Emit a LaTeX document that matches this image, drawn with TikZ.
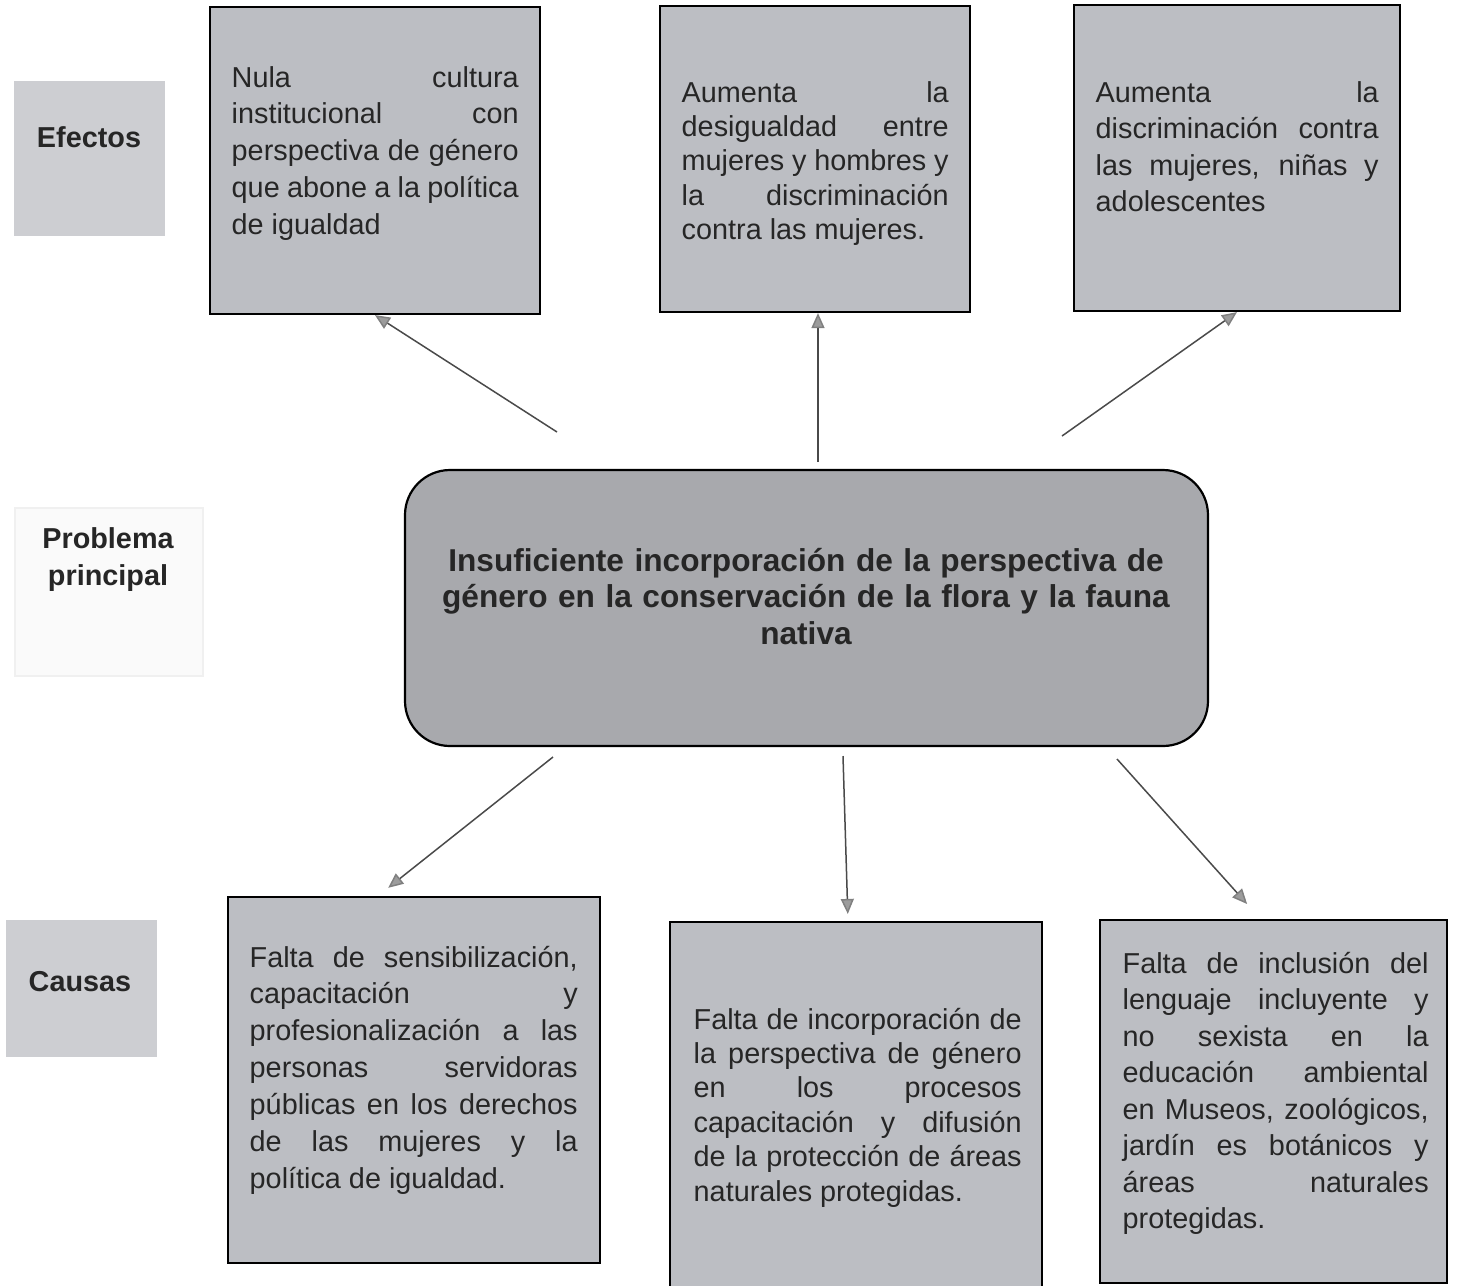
\documentclass[tikz,border=0pt]{standalone}
\usepackage{fontspec}
\setmainfont{Liberation Sans}
\usetikzlibrary{arrows.meta}
\tolerance=10000
\hbadness=10000
\hyphenpenalty=10000

\definecolor{boxgray}{HTML}{BCBEC3}
\definecolor{maingray}{HTML}{A8A9AD}
\definecolor{labgray}{HTML}{CDCED2}
\definecolor{txtgray}{HTML}{262626}
\definecolor{lingray}{HTML}{4A4A4A}
\definecolor{headgray}{HTML}{9C9C9C}

\tikzset{
  cbox/.style={rectangle,draw=black,fill=boxgray,line width=0.22mm,inner sep=0},
  labbox/.style={rectangle,draw=none,fill=labgray,inner sep=0},
  btxt/.style={anchor=base west,inner sep=0,align=justify,text=txtgray,font=\fontsize{8.2}{10.5}\selectfont},
  labtxt/.style={anchor=base,inner sep=0,align=center,text=txtgray,font=\fontsize{8.2}{10.6}\selectfont\bfseries},
  arr/.style={-{Triangle[length=1.5mm,width=1.3mm,fill=headgray,color=gray]},draw=lingray,line width=0.15mm}
}

\begin{document}
\begin{tikzpicture}[x=0.1mm,y=-0.1mm]
\useasboundingbox (0,0) rectangle (1458,1285);
% Row labels
\node[labbox,minimum width=15.1mm,minimum height=15.5mm] (Lefe) at (89.5,158.5) {};
\node[labtxt,text width=15mm] (Tefe) at (89,147) {Efectos};
\node[rectangle,draw=black!6,fill=black!2,minimum width=18.8mm,minimum height=16.8mm,inner sep=0] (Lprob) at (109,592) {};
\node[labtxt,text width=18mm] (Tprob) at (108,548) {Problema\\principal};
\node[labbox,minimum width=15.1mm,minimum height=13.7mm] (Lcau) at (81.5,988.5) {};
\node[labtxt,text width=15mm] (Tcau) at (80,991) {Causas};

% Effects
\node[cbox,minimum width=33mm,minimum height=30.7mm] (E1) at (375,160.5) {};
\node[btxt,text width=28.7mm] (E1t) at (231,87) {Nula cultura\linebreak institucional con\linebreak perspectiva de género\linebreak que abone a la política\linebreak de igualdad};
\node[cbox,minimum width=31mm,minimum height=30.6mm] (E2) at (815,159) {};
\node[btxt,text width=26.7mm,font=\fontsize{8.2}{9.8}\selectfont] (E2t) at (681,102) {Aumenta la\linebreak desigualdad entre\linebreak mujeres y hombres y\linebreak la discriminación\linebreak contra las mujeres.};
\node[cbox,minimum width=32.6mm,minimum height=30.6mm] (E3) at (1237,158) {};
\node[btxt,text width=28.3mm,font=\fontsize{8.2}{10.4}\selectfont] (E3t) at (1095,102) {Aumenta la\linebreak discriminación contra\linebreak las mujeres, niñas y\linebreak adolescentes};

% Main problem
\node[rectangle,rounded corners=4.5mm,draw=black,fill=maingray,line width=0.22mm,minimum width=80.3mm,minimum height=27.6mm,inner sep=0] (P) at (806.5,608) {};
\node[anchor=base,inner sep=0,align=center,text width=76mm,text=txtgray,font=\fontsize{9}{10.5}\selectfont\bfseries] (Pt) at (806,571) {Insuficiente incorporación de la perspectiva de\\género en la conservación de la flora y la fauna\\nativa};

% Causes
\node[cbox,minimum width=37.2mm,minimum height=36.6mm] (C1) at (414,1080) {};
\node[btxt,text width=32.8mm] (C1t) at (249,967) {Falta de sensibilización,\linebreak capacitación y\linebreak profesionalización a las\linebreak personas servidoras\linebreak públicas en los derechos\linebreak de las mujeres y la\linebreak política de igualdad.};
\node[cbox,minimum width=37.2mm,minimum height=37.3mm] (C2) at (856,1108.5) {};
\node[btxt,text width=32.8mm,font=\fontsize{8.2}{9.8}\selectfont] (C2t) at (693,1029) {Falta de incorporación de\linebreak la perspectiva de género\linebreak en los procesos\linebreak capacitación y difusión\linebreak de la protección de áreas\linebreak naturales protegidas.};
\node[cbox,minimum width=34.7mm,minimum height=36.3mm] (C3) at (1273.5,1101.5) {};
\node[btxt,text width=30.6mm,font=\fontsize{8.2}{10.4}\selectfont] (C3t) at (1122,973) {Falta de inclusión del\linebreak lenguaje incluyente y\linebreak no sexista en la\linebreak educación ambiental\linebreak en Museos, zoológicos,\linebreak jardín es botánicos y\linebreak áreas naturales\linebreak protegidas.};

% Arrows
\coordinate (e1s) at (557,432);
\coordinate (e2s) at (818,462);
\coordinate (e3s) at (1062,436);
\coordinate (c1s) at (553,757);
\coordinate (c2s) at (843,756);
\coordinate (c3s) at (1117,759);
\draw[arr] (e1s) -- (E1.south);
\draw[arr] (e2s) -- (e2s |- E2.south);
\draw[arr] (e3s) -- (E3.south);
\draw[arr,shorten >=1.3mm] (c1s) -- ([xshift=-3.6mm]C1.north);
\draw[arr,shorten >=0.7mm] (c2s) -- ([xshift=-0.8mm]C2.north);
\draw[arr,shorten >=2mm] (c3s) -- ([xshift=-1.3mm]C3.north);
\end{tikzpicture}
\end{document}
